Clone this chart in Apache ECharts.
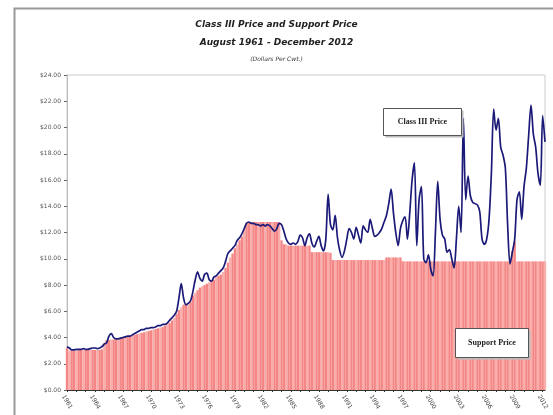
<!DOCTYPE html>
<html>
<head>
<meta charset="utf-8">
<script src="https://cdn.jsdelivr.net/npm/echarts@6/dist/echarts.min.js"></script>
<style>
  html, body { margin: 0; padding: 0; background: #fff; }
  #chart { width: 553px; height: 415px; }
</style>
</head>
<body>
<div id="chart"></div>
<script>
// 季度数据：1961Q3 ~ 2012Q4，共 206 个点
const firstYear = 1961
const lastYear = 2012
const yearLabels = [1961, 1964, 1967, 1970, 1973, 1976, 1979, 1982, 1985, 1988,
  1991, 1994, 1997, 2000, 2003, 2006, 2009, 2012]

const quarters = []
for (let y = firstYear; y <= lastYear; y++) {
  for (let q = 1; q <= 4; q++) {
    if (y === firstYear && q < 3) continue
    quarters.push(y + 'Q' + q)
  }
}

const classIII = [
  3.3, 3.2, 3.05, 3.05, 3.1, 3.1, 3.1, 3.15, 3.1, 3.1,
  3.15, 3.2, 3.2, 3.15, 3.2, 3.3, 3.5, 3.6, 4.1, 4.3,
  4.0, 3.9, 3.9, 3.95, 4.0, 4.05, 4.1, 4.1, 4.2, 4.3,
  4.4, 4.5, 4.6, 4.6, 4.7, 4.7, 4.75, 4.75, 4.8, 4.9,
  4.9, 5.0, 5.0, 5.1, 5.3, 5.5, 5.7, 6.0, 7.0, 8.1,
  7.0, 6.5, 6.6, 6.8, 7.5, 8.4, 9.0, 8.5, 8.3, 8.8,
  8.9, 8.4, 8.3, 8.6, 8.7, 8.9, 9.1, 9.3, 9.8, 10.4,
  10.6, 10.8, 11.0, 11.4, 11.6, 11.9, 12.3, 12.7, 12.8, 12.7,
  12.7, 12.6, 12.6, 12.5, 12.6, 12.5, 12.6, 12.5, 12.3, 12.1,
  12.3, 12.7, 12.6, 12.1, 11.5, 11.2, 11.1, 11.2, 11.1, 11.3,
  11.8, 11.6, 11.0, 11.6, 11.9, 11.2, 10.9, 11.3, 11.7, 11.0,
  10.6, 11.5, 14.9, 12.6, 12.2, 13.3, 11.6, 10.6, 10.1, 10.6,
  11.5, 12.3, 12.0, 11.5, 12.4, 11.8, 11.2, 12.5, 12.2, 12.0,
  13.0, 12.3, 11.7, 11.8, 12.0, 12.3, 12.8, 13.3, 14.2, 15.3,
  13.5, 12.0, 11.0, 12.3, 12.9, 13.2, 11.5, 13.5, 16.0, 17.3,
  11.0, 14.5, 15.5, 10.0, 9.7, 10.3, 9.2, 8.7, 12.0, 15.9,
  13.0, 11.8, 11.5, 10.5, 10.7, 10.0, 9.3, 11.5, 14.0, 12.0,
  20.7, 14.5, 16.3, 14.8, 14.3, 14.2, 14.1, 13.6, 11.5, 11.1,
  11.5, 13.0, 16.5, 21.4, 19.8, 20.7, 18.5, 17.9, 16.9, 12.5,
  9.6, 10.5, 11.5, 14.5, 15.1, 13.0, 15.5, 16.9, 19.4, 21.7,
  19.5, 18.5, 16.5, 15.6, 20.9, 18.9
]

const supportPrice = [
  3.2, 3.0, 3.0, 3.0, 3.0, 3.05, 3.05, 3.05, 3.05, 3.05,
  3.05, 3.05, 3.05, 3.05, 3.05, 3.1, 3.6, 3.8, 3.8, 3.85,
  3.85, 3.85, 3.9, 3.9, 4.0, 4.05, 4.05, 4.1, 4.15, 4.2,
  4.25, 4.3, 4.35, 4.4, 4.45, 4.5, 4.55, 4.6, 4.65, 4.7,
  4.75, 4.8, 4.9, 5.0, 5.1, 5.3, 5.5, 5.8, 6.1, 6.3,
  6.5, 6.5, 6.5, 6.7, 7.2, 7.4, 7.6, 7.8, 7.9, 8.0,
  8.1, 8.2, 8.3, 8.4, 8.6, 8.7, 8.8, 9.0, 9.3, 9.7,
  10.1, 10.4, 10.8, 11.1, 11.4, 11.7, 12.2, 12.7, 12.8, 12.8,
  12.8, 12.8, 12.8, 12.8, 12.8, 12.8, 12.8, 12.8, 12.8, 12.8,
  12.8, 12.8, 11.4, 11.1, 11.1, 11.0, 11.0, 11.0, 11.0, 11.0,
  11.0, 11.0, 11.0, 11.0, 11.0, 10.5, 10.5, 10.5, 10.5, 10.5,
  10.5, 10.5, 10.5, 10.45, 9.9, 9.9, 9.9, 9.9, 9.9, 9.9,
  9.9, 9.9, 9.9, 9.9, 9.9, 9.9, 9.9, 9.9, 9.9, 9.9,
  9.9, 9.9, 9.9, 9.9, 9.9, 9.9, 9.9, 10.1, 10.1, 10.1,
  10.1, 10.1, 10.1, 10.1, 9.8, 9.8, 9.8, 9.8, 9.8, 9.8,
  9.8, 9.8, 9.8, 9.8, 9.8, 9.8, 9.8, 9.8, 9.8, 9.8,
  9.8, 9.8, 9.8, 9.8, 9.8, 9.8, 9.8, 9.8, 9.8, 9.8,
  9.8, 9.8, 9.8, 9.8, 9.8, 9.8, 9.8, 9.8, 9.8, 9.8,
  9.8, 9.8, 9.8, 9.8, 9.8, 9.8, 9.8, 9.8, 9.8, 9.8,
  9.8, 10.6, 11.3, 9.8, 9.8, 9.8, 9.8, 9.8, 9.8, 9.8,
  9.8, 9.8, 9.8, 9.8, 9.8, 9.8
]

const chart = echarts.init(document.getElementById('chart'), null, { renderer: 'canvas' })

const titleFont = 'DejaVu Sans'
const boxFont = 'Liberation Serif'

// 图例框（直接画在图上的两个小标签），子元素各自带 z，保证盖在柱子上面
function labelBox(x, y, w, h, text) {
  return {
    type: 'group', left: x, top: y, z: 100,
    children: [
      { type: 'rect', z: 100, shape: { x: 2, y: 2, width: w, height: h }, style: { fill: '#bbb' } },
      { type: 'rect', z: 101, shape: { x: 0, y: 0, width: w, height: h }, style: { fill: '#fff', stroke: '#555', lineWidth: 1 } },
      { type: 'text', z: 102, x: w / 2, y: h / 2, style: { text: text, fill: '#222', font: 'bold 8px "' + boxFont + '"', align: 'center', verticalAlign: 'middle' } }
    ]
  }
}

chart.setOption({
  animation: false,
  backgroundColor: '#fff',
  title: [
    { text: 'Class III Price and Support Price', left: 'center', top: 15,
      textStyle: { fontFamily: titleFont, fontStyle: 'italic', fontWeight: 'bold', fontSize: 9, color: '#222' } },
    { text: 'August 1961 - December 2012', left: 'center', top: 33,
      textStyle: { fontFamily: titleFont, fontStyle: 'italic', fontWeight: 'bold', fontSize: 9, color: '#222' } },
    { text: '(Dollars Per Cwt.)', left: 'center', top: 51,
      textStyle: { fontFamily: titleFont, fontStyle: 'italic', fontWeight: 'normal', fontSize: 6, color: '#333' } }
  ],
  grid: {
    left: 67, right: 8, top: 75, bottom: 25,
    show: true, borderColor: '#ccc', borderWidth: 1, backgroundColor: 'transparent'
  },
  xAxis: {
    type: 'category',
    data: quarters,
    boundaryGap: false,
    axisLine: { lineStyle: { color: '#333', width: 1 } },
    axisTick: { show: true, interval: 3, length: 2, lineStyle: { color: '#333' } },
    axisLabel: {
      interval: 11, rotate: -60, fontSize: 6, color: '#444', margin: 12,
      align: 'center', verticalAlign: 'middle',
      fontFamily: 'DejaVu Sans',
      formatter: v => {
        const y = parseInt(v, 10)
        return yearLabels.includes(y) ? String(y) : ''
      }
    },
    splitLine: { show: false }
  },
  yAxis: {
    type: 'value',
    min: 0, max: 24, interval: 2,
    axisLine: { show: true, lineStyle: { color: '#bbb' } },
    axisTick: { show: true, length: 3, lineStyle: { color: '#666' } },
    axisLabel: { fontSize: 6, color: '#555', margin: 6, fontFamily: 'DejaVu Sans',
      formatter: v => '$' + v.toFixed(2) },
    splitLine: { show: false }
  },
  series: [
    {
      name: 'Support Price',
      type: 'bar',
      data: supportPrice,
      barCategoryGap: '0%',
      itemStyle: {
        color: p => (p.dataIndex % 3 === 1 ? '#F9AEAC' : '#F48785')
      },
      z: 1
    },
    {
      name: 'Class III Price',
      type: 'line',
      data: classIII,
      smooth: 0.3,
      symbol: 'none',
      lineStyle: { color: '#1B1A78', width: 1.7 },
      z: 3
    }
  ],
  graphic: [
    { type: 'rect', left: 12, top: 6, shape: { width: 600, height: 430 },
      style: { fill: 'none', stroke: '#999', lineWidth: 2 }, z: 100 },
    labelBox(383, 108, 78, 27, 'Class III Price'),
    labelBox(455, 328, 73, 29, 'Support Price')
  ]
})
</script>
</body>
</html>
